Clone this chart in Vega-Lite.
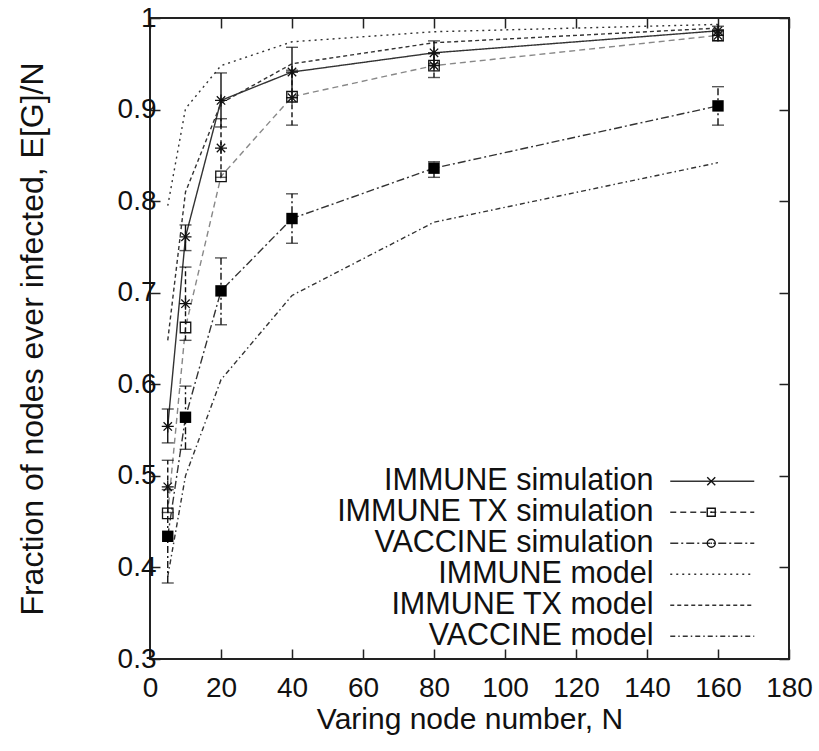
{
  "$schema": "https://vega.github.io/schema/vega-lite/v6.json",
  "width": 639,
  "height": 641,
  "autosize": "none",
  "padding": {"left": 150, "top": 18, "right": 30, "bottom": 92},
  "background": "white",
  "data": {
    "values": [
      {"series": "IMMUNE simulation", "N": 5, "frac": 0.554, "lo": 0.536, "hi": 0.573},
      {"series": "IMMUNE simulation", "N": 10, "frac": 0.761, "lo": 0.746, "hi": 0.774},
      {"series": "IMMUNE simulation", "N": 20, "frac": 0.910, "lo": 0.881, "hi": 0.940},
      {"series": "IMMUNE simulation", "N": 40, "frac": 0.941, "lo": 0.913, "hi": 0.968},
      {"series": "IMMUNE simulation", "N": 80, "frac": 0.962, "lo": 0.950, "hi": 0.975},
      {"series": "IMMUNE simulation", "N": 160, "frac": 0.986, "lo": 0.981, "hi": 0.991},
      {"series": "IMMUNE TX simulation", "N": 5, "frac": 0.459},
      {"series": "IMMUNE TX simulation", "N": 10, "frac": 0.662},
      {"series": "IMMUNE TX simulation", "N": 20, "frac": 0.827},
      {"series": "IMMUNE TX simulation", "N": 40, "frac": 0.914},
      {"series": "IMMUNE TX simulation", "N": 80, "frac": 0.948},
      {"series": "IMMUNE TX simulation", "N": 160, "frac": 0.981},
      {"series": "IMMUNE TX errorbars", "N": 5, "frac": 0.488, "lo": 0.460, "hi": 0.517},
      {"series": "IMMUNE TX errorbars", "N": 10, "frac": 0.688, "lo": 0.648, "hi": 0.728},
      {"series": "IMMUNE TX errorbars", "N": 20, "frac": 0.858, "lo": 0.826, "hi": 0.890},
      {"series": "IMMUNE TX errorbars", "N": 40, "frac": 0.913, "lo": 0.883, "hi": 0.943},
      {"series": "IMMUNE TX errorbars", "N": 80, "frac": 0.948, "lo": 0.935, "hi": 0.961},
      {"series": "IMMUNE TX errorbars", "N": 160, "frac": 0.981, "lo": 0.975, "hi": 0.987},
      {"series": "VACCINE simulation", "N": 5, "frac": 0.434, "lo": 0.383, "hi": 0.485},
      {"series": "VACCINE simulation", "N": 10, "frac": 0.564, "lo": 0.529, "hi": 0.598},
      {"series": "VACCINE simulation", "N": 20, "frac": 0.702, "lo": 0.665, "hi": 0.738},
      {"series": "VACCINE simulation", "N": 40, "frac": 0.781, "lo": 0.754, "hi": 0.808},
      {"series": "VACCINE simulation", "N": 80, "frac": 0.836, "lo": 0.826, "hi": 0.843},
      {"series": "VACCINE simulation", "N": 160, "frac": 0.904, "lo": 0.883, "hi": 0.925},
      {"series": "IMMUNE model", "N": 5, "frac": 0.795},
      {"series": "IMMUNE model", "N": 10, "frac": 0.901},
      {"series": "IMMUNE model", "N": 20, "frac": 0.948},
      {"series": "IMMUNE model", "N": 40, "frac": 0.974},
      {"series": "IMMUNE model", "N": 80, "frac": 0.985},
      {"series": "IMMUNE model", "N": 160, "frac": 0.993},
      {"series": "IMMUNE TX model", "N": 5, "frac": 0.648},
      {"series": "IMMUNE TX model", "N": 10, "frac": 0.810},
      {"series": "IMMUNE TX model", "N": 20, "frac": 0.907},
      {"series": "IMMUNE TX model", "N": 40, "frac": 0.950},
      {"series": "IMMUNE TX model", "N": 80, "frac": 0.973},
      {"series": "IMMUNE TX model", "N": 160, "frac": 0.989},
      {"series": "VACCINE model", "N": 5, "frac": 0.390},
      {"series": "VACCINE model", "N": 10, "frac": 0.500},
      {"series": "VACCINE model", "N": 20, "frac": 0.605},
      {"series": "VACCINE model", "N": 40, "frac": 0.697},
      {"series": "VACCINE model", "N": 80, "frac": 0.777},
      {"series": "VACCINE model", "N": 160, "frac": 0.842}
    ]
  },
  "layer": [
    {
      "transform": [{"filter": "datum.series !== 'IMMUNE TX errorbars' && datum.series !== 'IMMUNE TX simulation'"}],
      "mark": {"type": "line", "strokeWidth": 1.4, "color": "#333"},
      "encoding": {
        "x": {"field": "N", "type": "quantitative",
              "scale": {"domain": [0, 180], "nice": false, "zero": false},
              "axis": {"orient": "bottom", "title": "Varing node number, N", "values": [0, 20, 40, 60, 80, 100, 120, 140, 160, 180], "labelPadding": 25, "titlePadding": 2, "titleFontSize": 30}},
        "y": {"field": "frac", "type": "quantitative",
              "scale": {"domain": [0.3, 1], "nice": false, "zero": false},
              "axis": {"orient": "left", "title": "Fraction of nodes ever infected, E[G]/N", "values": [0.3, 0.4, 0.5, 0.6, 0.7, 0.8, 0.9, 1], "format": ".1~f", "labelPadding": 4, "titlePadding": 68, "titleFontSize": 32}},
        "order": {"field": "N", "type": "quantitative"},
        "strokeDash": {"field": "series", "type": "nominal",
          "scale": {"domain": ["IMMUNE simulation", "IMMUNE TX simulation", "VACCINE simulation", "IMMUNE model", "IMMUNE TX model", "VACCINE model"],
                    "range": [[1, 0], [6, 4], [8, 3, 2, 3], [2, 4], [4, 3], [5, 3, 1.5, 3]]},
          "legend": {"orient": "none", "legendX": 547, "legendY": 448, "title": null, "symbolType": "M-8.4,0L8.4,0", "symbolSize": 100,
                     "symbolStrokeWidth": 1.4, "symbolStrokeColor": "#333", "labelFontSize": 30.5, "labelAlign": "right", "labelOffset": -74,
                     "labelColor": "#111", "rowPadding": 0, "padding": 0, "labelLimit": 400}}
      }
    },
    {
      "transform": [{"filter": "datum.series === 'IMMUNE TX simulation'"}],
      "mark": {"type": "line", "strokeWidth": 1.4, "color": "#888", "strokeDash": [6, 4]},
      "encoding": {
        "x": {"field": "N", "type": "quantitative", "axis": null},
        "y": {"field": "frac", "type": "quantitative", "axis": null},
        "order": {"field": "N", "type": "quantitative"}
      }
    },
    {
      "transform": [{"filter": "datum.series === 'IMMUNE simulation'"}],
      "mark": {"type": "errorbar", "ticks": {"size": 12, "thickness": 1.4, "color": "#111"}, "rule": {"strokeWidth": 1.4, "color": "#111"}},
      "encoding": {
        "x": {"field": "N", "type": "quantitative", "axis": null},
        "y": {"field": "lo", "type": "quantitative", "axis": null},
        "y2": {"field": "hi"}
      }
    },
    {
      "transform": [{"filter": "datum.series === 'IMMUNE TX errorbars'"}],
      "mark": {"type": "errorbar", "ticks": {"size": 12, "thickness": 1.4, "color": "#111"}, "rule": {"strokeWidth": 1.4, "color": "#111", "strokeDash": [5, 3]}},
      "encoding": {
        "x": {"field": "N", "type": "quantitative", "axis": null},
        "y": {"field": "lo", "type": "quantitative", "axis": null},
        "y2": {"field": "hi"}
      }
    },
    {
      "transform": [{"filter": "datum.series === 'VACCINE simulation'"}],
      "mark": {"type": "errorbar", "ticks": {"size": 12, "thickness": 1.4, "color": "#111"}, "rule": {"strokeWidth": 1.4, "color": "#111", "strokeDash": [7, 3, 2, 3]}},
      "encoding": {
        "x": {"field": "N", "type": "quantitative", "axis": null},
        "y": {"field": "lo", "type": "quantitative", "axis": null},
        "y2": {"field": "hi"}
      }
    },
    {
      "transform": [{"filter": "datum.series === 'IMMUNE simulation' || datum.series === 'IMMUNE TX errorbars'"}],
      "mark": {"type": "point", "shape": "M-1,0L1,0M0,-1L0,1M-0.7,-0.7L0.7,0.7M-0.7,0.7L0.7,-0.7", "size": 144, "filled": false, "stroke": "#111", "strokeWidth": 1.3, "opacity": 1},
      "encoding": {
        "x": {"field": "N", "type": "quantitative", "axis": null},
        "y": {"field": "frac", "type": "quantitative", "axis": null}
      }
    },
    {
      "transform": [{"filter": "datum.series === 'IMMUNE TX simulation'"}],
      "mark": {"type": "point", "shape": "square", "size": 110, "filled": false, "stroke": "#111", "strokeWidth": 1.3, "opacity": 1},
      "encoding": {
        "x": {"field": "N", "type": "quantitative", "axis": null},
        "y": {"field": "frac", "type": "quantitative", "axis": null}
      }
    },
    {
      "transform": [{"filter": "datum.series === 'VACCINE simulation'"}],
      "mark": {"type": "point", "shape": "square", "size": 130, "filled": true, "color": "#000", "opacity": 1},
      "encoding": {
        "x": {"field": "N", "type": "quantitative", "axis": null},
        "y": {"field": "frac", "type": "quantitative", "axis": null}
      }
    },
    {
      "transform": [{"filter": "datum.N < 0"}],
      "mark": {"type": "point", "filled": false, "strokeWidth": 1.3, "opacity": 1},
      "encoding": {
        "x": {"field": "N", "type": "quantitative",
              "axis": {"orient": "top", "labels": false, "title": null, "values": [0, 20, 40, 60, 80, 100, 120, 140, 160, 180]}},
        "y": {"field": "frac", "type": "quantitative",
              "axis": {"orient": "right", "labels": false, "title": null, "values": [0.3, 0.4, 0.5, 0.6, 0.7, 0.8, 0.9, 1]}},
        "shape": {"field": "series", "type": "nominal",
          "scale": {"domain": ["IMMUNE simulation", "IMMUNE TX simulation", "VACCINE simulation"],
                    "range": ["M-0.8,-0.8L0.8,0.8M-0.8,0.8L0.8,-0.8",
                              "M-0.8,-0.8L0.8,-0.8L0.8,0.8L-0.8,0.8ZM-0.12,0L0.12,0",
                              "M0.8,0A0.8,0.8 0 1 1 -0.8,0A0.8,0.8 0 1 1 0.8,0ZM-0.12,0L0.12,0"]},
          "legend": {"orient": "none", "legendX": 546, "legendY": 448, "title": null, "symbolSize": 100,
                     "symbolStrokeWidth": 1.4, "symbolStrokeColor": "#111", "symbolFillColor": "white",
                     "labelFontSize": 30.5, "labelOpacity": 0, "labelLimit": 1, "rowPadding": 0, "padding": 0}}
      }
    }
  ],
  "resolve": {"axis": {"x": "independent", "y": "independent"}},
  "config": {
    "font": "Liberation Sans",
    "view": {"stroke": "#222", "strokeWidth": 2},
    "axis": {"domain": false, "grid": false, "tickColor": "#222", "tickWidth": 1.5, "tickSize": -10,
             "labelFontSize": 28, "labelColor": "#111", "labelFont": "Liberation Sans",
             "titleFontSize": 28, "titleFontWeight": "normal", "titleColor": "#111", "titleFont": "Liberation Sans",
             "labelFlush": false, "labelOverlap": false, "labelBound": false},
    "legend": {"labelFont": "Liberation Sans"}
  }
}
